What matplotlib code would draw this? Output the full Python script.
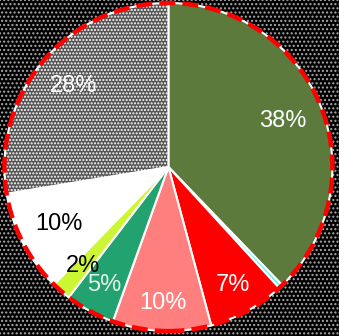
import numpy as np
import matplotlib
matplotlib.use("Agg")
import matplotlib.pyplot as plt
from matplotlib.patches import Rectangle, Circle

# slice values (percent), clockwise from 12 o'clock
values = [37.8, 0.4, 7.6, 9.7, 4.9, 1.9, 10.1, 27.6]
labels = ["38%", "", "7%", "10%", "5%", "2%", "10%", "28%"]
colors = ["#5B7A3C", "#66F2F5", "#FF0000", "#FF7F7F", "#21A26E", "#CCF534", "#FFFFFF", "#555555"]
label_colors = ["white", "white", "white", "white", "#E6F2EA", "black", "black", "white"]
label_radius = [0.75, 0.8, 0.82, 0.83, 0.82, 0.8, 0.75, 0.76]

plt.rcParams['hatch.linewidth'] = 1.0

fig = plt.figure(figsize=(3.39, 3.36), dpi=100)
fig.patch.set_facecolor("black")
ax = fig.add_axes([0, 0, 1, 1])

# speckled black background
bg = Rectangle((-1.2, -1.2), 2.4, 2.4, facecolor="black", edgecolor="#AAAAAA",
               hatch="....", lw=0, zorder=0)
ax.add_patch(bg)

wedges, _ = ax.pie(values, colors=colors, startangle=90, counterclock=False,
                   radius=1.0, wedgeprops=dict(edgecolor="white", linewidth=1.5))
for w in wedges:
    w.set_zorder(2)
# textured last slice
wedges[-1].set_hatch(".....")

for w, lab, c, r in zip(wedges, labels, label_colors, label_radius):
    if not lab:
        continue
    ang = np.deg2rad((w.theta1 + w.theta2) / 2)
    ax.text(r * np.cos(ang), r * np.sin(ang), lab, color=c, fontsize=17,
            family="Liberation Sans", ha="center", va="center", zorder=5)

ring = Circle((0, 0), 1.0, fill=False, edgecolor="#FF0000", lw=3.2,
              linestyle=(0, (3.6, 1.6)), zorder=4)
ax.add_patch(ring)

ax.set_aspect("auto")
ax.set_xlim(-1.027, 1.040)
ax.set_ylim(-1.030, 1.018)
ax.axis("off")

fig.savefig("out.png", dpi=100, facecolor="black")
